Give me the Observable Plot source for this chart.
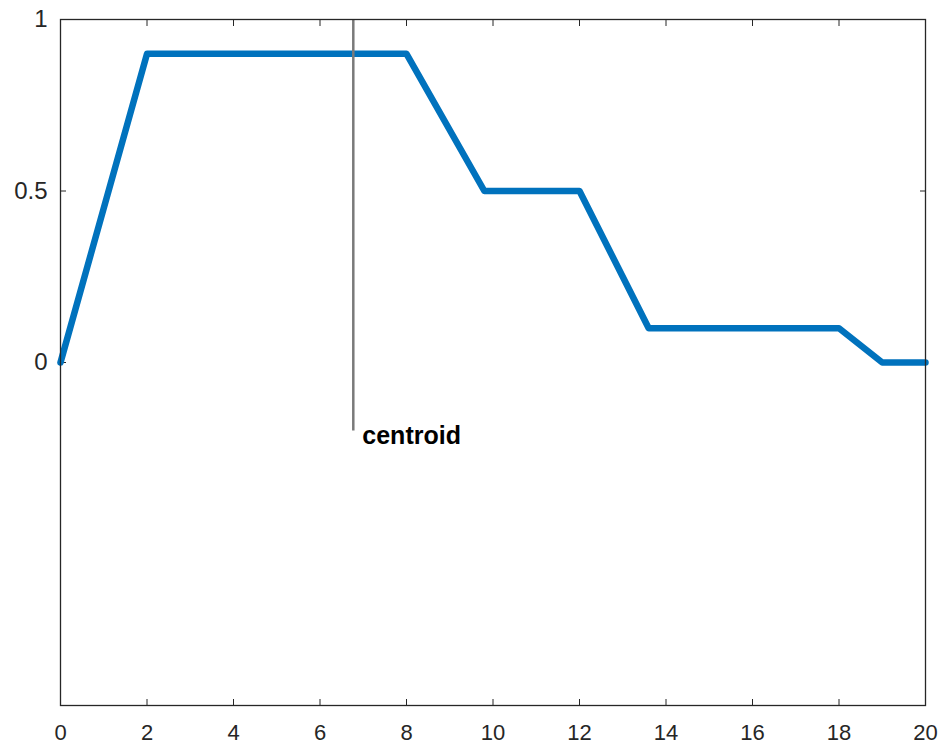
<!DOCTYPE html>
<html>
<head>
<meta charset="utf-8">
<script src="https://cdn.jsdelivr.net/npm/d3@7"></script>
<script src="https://cdn.jsdelivr.net/npm/@observablehq/plot@0.6"></script>
<style>
  html, body { margin: 0; padding: 0; background: #fff; }
  #chart svg { display: block; font-family: "Liberation Sans", Arial, Helvetica, sans-serif; }
</style>
</head>
<body>
<div id="chart"></div>
<script>
// Aggregated membership curve (x, y)
const curveX = [0, 2, 8, 9.8, 12, 13.6, 18, 19, 20];
const curveY = [0, 0.9, 0.9, 0.5, 0.5, 0.1, 0.1, 0, 0];

// Centroid marker
const centroidX = 6.77;
const centroidLow = -0.2;
const centroidHigh = 1;
const centroidLabel = "centroid";

// Ticks
const xTicks = [0, 2, 4, 6, 8, 10, 12, 14, 16, 18, 20];
const yTicks = [0, 0.5, 1];
const yTickLabels = ["0", "0.5", "1"];

const curve = curveX.map((x, i) => ({x, y: curveY[i]}));
const centroid = [{x: centroidX, y1: centroidLow, y2: centroidHigh, label: centroidLabel}];
const axisColor = "#262626";
const tickLen = 6;

const chart = Plot.plot({
  width: 943,
  height: 747,
  marginLeft: 60,
  marginRight: 18,
  marginTop: 19,
  marginBottom: 42,
  x: {domain: [0, 20]},
  y: {domain: [-1, 1]},
  marks: [
    // inward ticks
    Plot.axisX(xTicks, {anchor: "bottom", tickSize: tickLen, dy: -tickLen, tickFormat: () => "", color: axisColor, label: null}),
    Plot.axisX(xTicks, {anchor: "top", tickSize: tickLen, dy: tickLen, tickFormat: () => "", color: axisColor, label: null}),
    Plot.axisY(yTicks, {anchor: "left", tickSize: tickLen, dx: tickLen, tickFormat: () => "", color: axisColor, label: null}),
    Plot.axisY(yTicks, {anchor: "right", tickSize: tickLen, dx: -tickLen, tickFormat: () => "", color: axisColor, label: null}),
    // labels
    Plot.axisX(xTicks, {anchor: "bottom", tickSize: 0, tickPadding: 19, fontSize: 22, color: axisColor, label: null, tickFormat: d => String(d)}),
    Plot.axisY(yTicks, {anchor: "left", tickSize: 0, tickPadding: 13, fontSize: 24, color: axisColor, label: null, tickFormat: (d, i) => yTickLabels[yTicks.indexOf(d)]}),
    Plot.line(curve, {x: "x", y: "y", stroke: "#0072BD", strokeWidth: 6.5, strokeLinejoin: "round"}),
    Plot.ruleX(centroid, {x: "x", y1: "y1", y2: "y2", stroke: "#7a7a7a", strokeWidth: 2.5}),
    Plot.text(centroid, {x: "x", y: "y1", text: "label", textAnchor: "start", lineAnchor: "middle", dx: 9, dy: 5, fontSize: 25, fontWeight: "bold", fill: "#000"}),
    Plot.frame({stroke: axisColor, strokeWidth: 1.3})
  ]
});
document.getElementById("chart").appendChild(chart);
</script>
</body>
</html>
